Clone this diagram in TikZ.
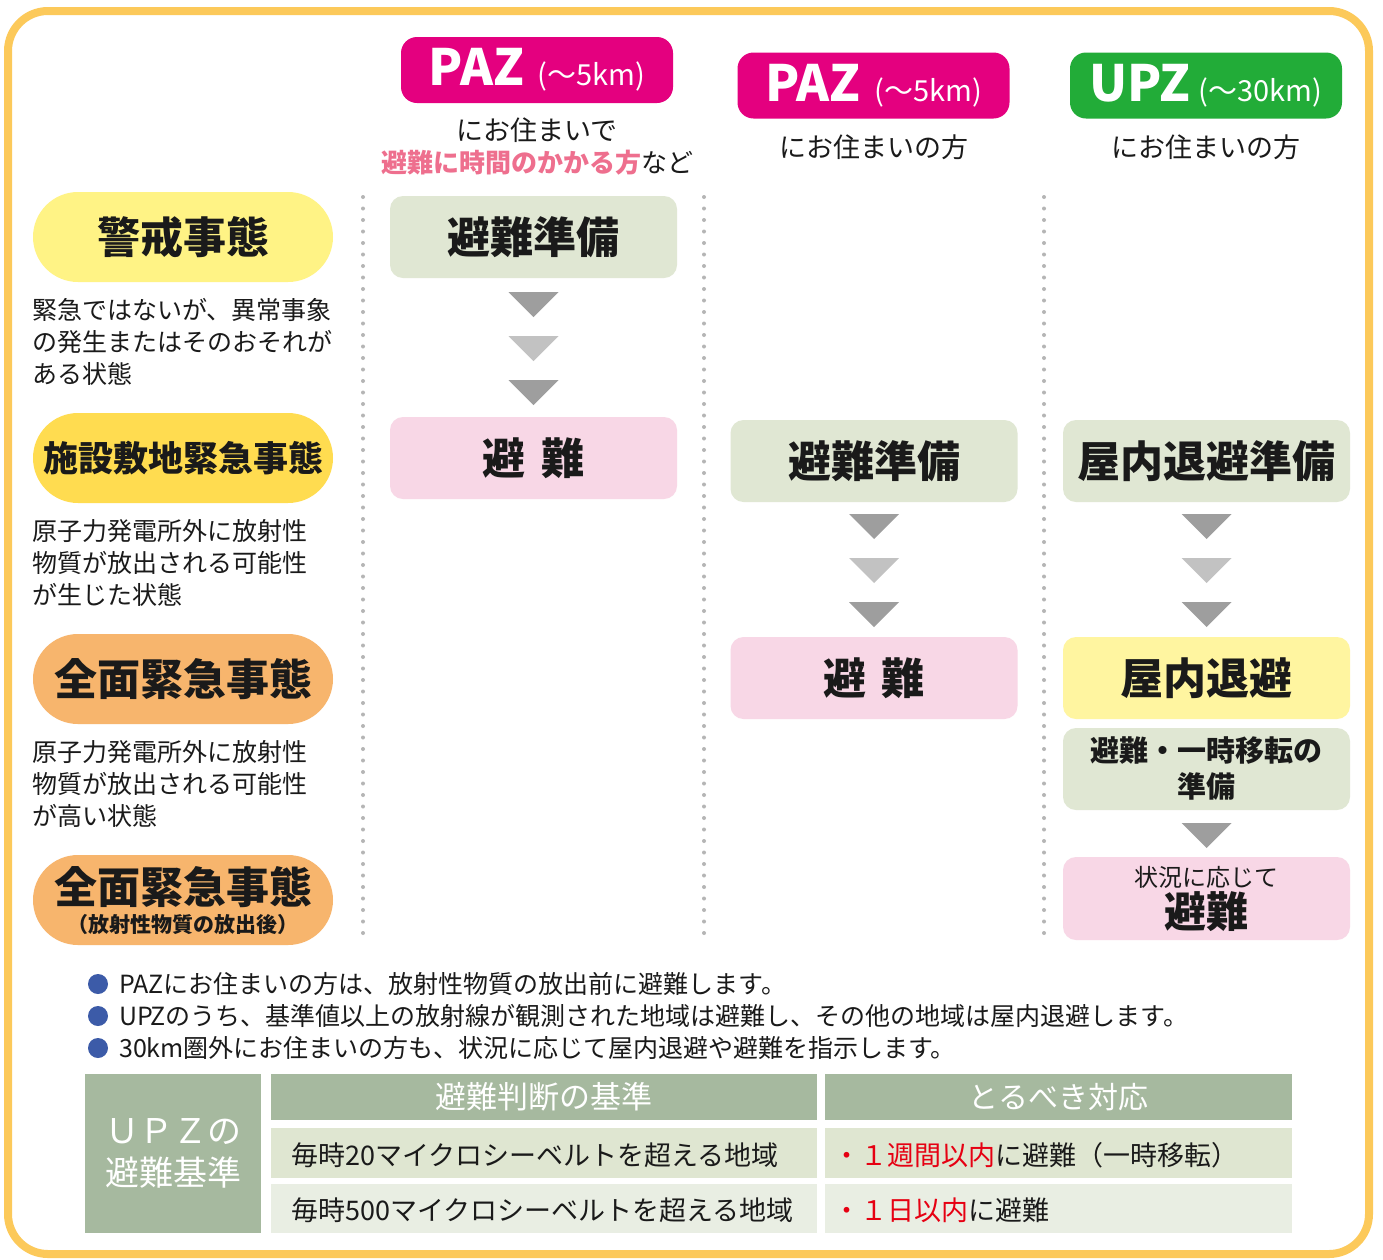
\documentclass[tikz,border=0pt]{standalone}
\usepackage{fontspec}
\setmainfont{Noto Sans CJK JP}
\usetikzlibrary{calc}
\definecolor{frame}{HTML}{FCC95A}
\definecolor{paz}{HTML}{E4007F}
\definecolor{upz}{HTML}{22AC38}
\definecolor{pinktxt}{HTML}{EE6F8E}
\definecolor{yelA}{HTML}{FFF385}
\definecolor{yelB}{HTML}{FFDC50}
\definecolor{orng}{HTML}{F7B56D}
\definecolor{prep}{HTML}{E0E7D3}
\definecolor{evac}{HTML}{F8D7E6}
\definecolor{shelt}{HTML}{FFF5A0}
\definecolor{triD}{HTML}{9E9E9E}
\definecolor{triL}{HTML}{C2C2C2}
\definecolor{dotg}{HTML}{B5B5B5}
\definecolor{bblue}{HTML}{3C5BA8}
\definecolor{thead}{HTML}{A6B99F}
\definecolor{rowA}{HTML}{DFE6D1}
\definecolor{rowB}{HTML}{E9EEE3}
\definecolor{redt}{HTML}{E60012}
\definecolor{ink}{HTML}{1A1A1A}
\newcommand\fs[2]{\fontsize{#1}{#2}\selectfont}
\newcommand\tri[3]{\fill[#3] (#1-25,#2) -- (#1+25,#2) -- (#1,#2+25) -- cycle;}
\tikzset{
  hdr/.style={rounded corners=16pt, minimum width=272pt, minimum height=66pt, inner sep=0pt, text=white},
  pill/.style={rounded corners=45pt, minimum width=300pt, minimum height=90pt, inner sep=0pt, text=ink, font=\bfseries\fs{43}{48}},
  stepbox/.style={rounded corners=13pt, minimum width=287pt, minimum height=82pt, inner sep=0pt, text=ink, font=\bfseries\fs{43}{48}},
  desc/.style={anchor=west, align=left, inner sep=0pt, text=ink, font=\fs{25}{32}},
  sub/.style={inner sep=0pt, text=ink, font=\fs{27}{32}},
  dots/.style={dotg, line width=4pt, line cap=round, dash pattern=on 0pt off 11.5pt},
  bul/.style={anchor=west, inner sep=0pt, text=ink, font=\fs{25}{28}},
  cell/.style={inner sep=0pt, minimum height=50pt},
}
\begin{document}
\begin{tikzpicture}[x=1pt,y=-1pt]
\useasboundingbox (0,0) rectangle (1383,1259);
\fill[white] (0,0) rectangle (1383,1259);
\draw[frame, line width=8pt, rounded corners=40pt] (8,11) rectangle (1369,1254);

% headers
\node[hdr, fill=paz] (h1) at (537,70) {\bfseries\fs{50}{54}PAZ\hspace{14pt}\mdseries\fs{29}{32}(～5km)};
\node[sub] (h1a) at (537,130) {にお住まいで};
\node[sub, font=\fs{26}{30}] (h1b) at (537,163) {\textcolor{pinktxt}{\bfseries 避難に時間のかかる方}など};
\node[hdr, fill=paz] (h2) at (873.5,85.5) {\bfseries\fs{50}{54}PAZ\hspace{14pt}\mdseries\fs{29}{32}(～5km)};
\node[sub] (h2a) at (873.5,147) {にお住まいの方};
\node[hdr, fill=upz] (h3) at (1206,85.5) {\bfseries\fs{50}{54}UPZ\hspace{8pt}\mdseries\fs{29}{32}(～30km)};
\node[sub] (h3a) at (1206,147) {にお住まいの方};

% left pills
\node[pill, fill=yelA] (p1) at (183,237) {警戒事態};
\node[desc] (d1) at (32,342) {緊急ではないが、異常事象\\の発生またはそのおそれが\\ある状態};
\node[pill, fill=yelB, font=\bfseries\fs{35}{40}] (p2) at (183,458) {施設敷地緊急事態};
\node[desc] (d2) at (32,563) {原子力発電所外に放射性\\物質が放出される可能性\\が生じた状態};
\node[pill, fill=orng] (p3) at (183,679) {全面緊急事態};
\node[desc] (d3) at (32,784) {原子力発電所外に放射性\\物質が放出される可能性\\が高い状態};
\node[pill, fill=orng] (p4) at (183,900) {};
\node[inner sep=0pt, text=ink, font=\bfseries\fs{43}{48}] (p4a) at (183,887) {全面緊急事態};
\node[inner sep=0pt, text=ink, font=\bfseries\fs{21}{24}] (p4b) at (183,925) {（放射性物質の放出後）};

% dotted separators
\draw[dots] (363,197) -- (363,940);
\draw[dots] (704,197) -- (704,940);
\draw[dots] (1044,197) -- (1044,940);

% column 1
\node[stepbox, fill=prep] (c1a) at (533.5,237) {避難準備};
\tri{533.5}{292}{triD}
\tri{533.5}{336}{triL}
\tri{533.5}{380}{triD}
\node[stepbox, fill=evac] (c1b) at (533.5,458) {避\hspace{0.35em}難};

% column 2
\node[stepbox, fill=prep] (c2a) at (874,461) {避難準備};
\tri{874}{514}{triD}
\tri{874}{558}{triL}
\tri{874}{602}{triD}
\node[stepbox, fill=evac] (c2b) at (874,678) {避\hspace{0.35em}難};

% column 3
\node[stepbox, fill=prep] (c3a) at (1206.5,461) {屋内退避準備};
\tri{1206.5}{514}{triD}
\tri{1206.5}{558}{triL}
\tri{1206.5}{602}{triD}
\node[stepbox, fill=shelt] (c3b) at (1206.5,678) {屋内退避};
\node[stepbox, fill=prep, font=\bfseries\fs{29}{36}, align=center] (c3c) at (1206.5,769) {避難・一時移転の\\準備};
\tri{1206.5}{823}{triD}
\node[stepbox, fill=evac, minimum height=83pt] (c3d) at (1206.5,898.5) {};
\node[inner sep=0pt, text=ink, font=\fs{24}{28}] (c3d1) at (1206.5,877) {状況に応じて};
\node[inner sep=0pt, text=ink, font=\bfseries\fs{42}{46}] (c3d2) at (1206.5,912) {避難};

% bullets
\foreach \yy in {984,1016,1048}{\fill[bblue] (98,\yy) circle[radius=10pt];}
\node[bul] (t1) at (119,984) {PAZにお住まいの方は、放射性物質の放出前に避難します。};
\node[bul] (t2) at (119,1016) {UPZのうち、基準値以上の放射線が観測された地域は避難し、その他の地域は屋内退避します。};
\node[bul] (t3) at (119,1048) {30km圏外にお住まいの方も、状況に応じて屋内退避や避難を指示します。};

% table
\node[fill=thead, minimum width=176pt, minimum height=159pt, inner sep=0pt, text=white, align=center, font=\fs{34}{42}] (tl) at (173,1153.5) {ＵＰＺの\\避難基準};
\node[fill=thead, minimum width=546pt, minimum height=46pt, inner sep=0pt, text=white, font=\fs{31}{36}] (th1) at (544,1097) {避難判断の基準};
\node[fill=thead, minimum width=467pt, minimum height=46pt, inner sep=0pt, text=white, font=\fs{30}{36}] (th2) at (1058.5,1097) {とるべき対応};
\node[cell, fill=rowA, minimum width=546pt] (r1a) at (544,1153) {};
\node[cell, fill=rowA, minimum width=467pt] (r1b) at (1058.5,1153) {};
\node[cell, fill=rowB, minimum width=546pt, minimum height=49pt] (r2a) at (544,1208.5) {};
\node[cell, fill=rowB, minimum width=467pt, minimum height=49pt] (r2b) at (1058.5,1208.5) {};
\node[anchor=west, inner sep=0pt, text=ink, font=\fs{27}{30}] (r1at) at (291,1155) {毎時20マイクロシーベルトを超える地域};
\node[anchor=west, inner sep=0pt, text=ink, font=\fs{27}{30}] (r2at) at (291,1210) {毎時500マイクロシーベルトを超える地域};
\node[anchor=west, inner sep=0pt, text=ink, font=\fs{27}{30}] (r1bt) at (833,1155) {\textcolor{redt}{・１週間以内}に避難（一時移転）};
\node[anchor=west, inner sep=0pt, text=ink, font=\fs{27}{30}] (r2bt) at (833,1210) {\textcolor{redt}{・１日以内}に避難};
\end{tikzpicture}
\end{document}
